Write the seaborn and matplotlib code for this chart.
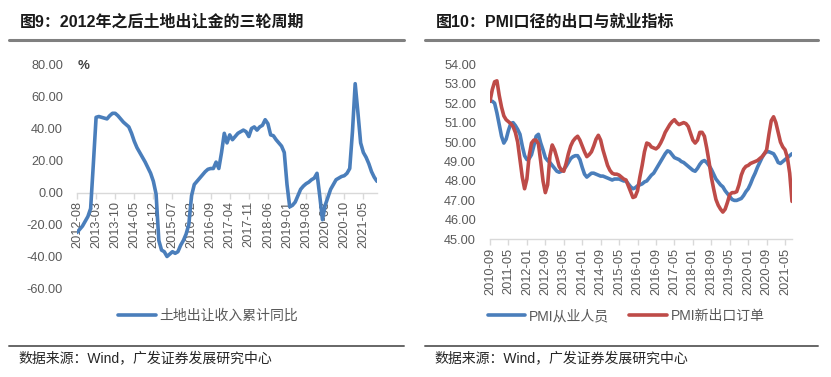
import numpy as np
import pandas as pd
import matplotlib
matplotlib.use("Agg")
import matplotlib.pyplot as plt
import seaborn as sns
from matplotlib.lines import Line2D

# ---------------- data ----------------
land_start = "2012-08"
land_yoy = [
    -25, -23, -21, -18, -15, -10, 18, 47, 47.5, 47, 46.5, 46, 48, 49.5, 49.5, 48,
    46, 44, 42.5, 41, 37, 32, 28, 25, 22, 19, 15.5, 12, 7, -1, -30, -36,
    -37, -40, -38.5, -37, -38, -37, -33, -30, -26, -20, -2, 5, 7, 9, 11, 13,
    14.5, 15, 15, 19, 15, 25, 37, 31, 36, 33, 35, 37, 38, 39, 38, 35,
    40, 41, 39, 41, 42, 45.5, 43, 36, 35.5, 33, 31, 29, 25, 5, -9, -8,
    -6, -2, 2, 4, 5.5, 6.5, 8, 9, 12, -2, -17, -8, -3, 2, 5, 8,
    9, 10, 10.5, 12, 15, 38, 68, 50, 31, 25, 22, 18, 13, 9.5, 7,
]
land_tick_labels = ["2012-08", "2013-03", "2013-10", "2014-05", "2014-12", "2015-07",
                    "2016-02", "2016-09", "2017-04", "2017-11", "2018-06", "2019-01",
                    "2019-08", "2020-03", "2020-10", "2021-05"]
land_series_name = "土地出让收入累计同比"

pmi_start = "2010-09"
pmi_employment = [
    52.1, 52.1, 52.0, 51.5, 50.9, 50.3, 49.95, 50.15, 50.6, 50.95, 51.0, 50.85,
    50.65, 50.4, 49.8, 49.3, 49.1, 49.15, 49.35, 49.8, 50.3, 50.4, 49.95, 49.6,
    49.2, 49.05, 48.95, 48.8, 48.65, 48.5, 48.45, 48.5, 48.6, 48.75, 48.95, 49.15,
    49.25, 49.3, 49.3, 49.1, 48.7, 48.35, 48.2, 48.3, 48.4, 48.4, 48.35, 48.3,
    48.25, 48.25, 48.2, 48.15, 48.1, 48.05, 48.1, 48.1, 48.1, 48.05, 48.0, 48.0,
    47.85, 47.7, 47.6, 47.65, 47.75, 47.8, 47.85, 47.95, 48.0, 48.15, 48.3, 48.4,
    48.6, 48.8, 49.0, 49.2, 49.4, 49.55, 49.5, 49.35, 49.2, 49.15, 49.1, 49.0,
    48.95, 48.85, 48.75, 48.65, 48.55, 48.5, 48.65, 48.85, 49.0, 49.05, 48.95, 48.8,
    48.6, 48.35, 48.1, 47.95, 47.8, 47.7, 47.5, 47.35, 47.2, 47.05, 47.0, 47.0,
    47.05, 47.1, 47.25, 47.45, 47.6, 47.85, 48.15, 48.4, 48.7, 48.95, 49.2, 49.4,
    49.5, 49.5, 49.45, 49.4, 49.2, 48.95, 48.9, 49.0, 49.1, 49.2, 49.3, 49.4,
]
pmi_export = [
    52.1, 52.7, 53.1, 53.15, 52.4, 51.8, 51.35, 51.15, 51.05, 50.95, 50.8, 50.5,
    50.0, 49.1, 48.2, 47.6, 48.1, 49.3, 49.95, 50.1, 50.1, 49.9, 49.0, 48.0,
    47.4, 47.8, 49.3, 49.85, 49.6, 49.2, 48.75, 48.55, 48.5, 48.9, 49.4, 49.8,
    50.05, 50.2, 50.3, 50.1, 49.8, 49.5, 49.25, 49.35, 49.5, 49.8, 50.15, 50.35,
    50.1, 49.6, 49.2, 48.8, 48.55, 48.4, 48.35, 48.35, 48.3, 48.2, 48.1, 48.05,
    47.75, 47.45, 47.15, 47.2, 47.5, 48.2, 48.8, 49.5, 49.95, 49.9, 49.75, 49.7,
    49.65, 49.75, 49.95, 50.2, 50.5, 50.7, 50.9, 51.05, 51.15, 51.0, 50.9, 50.95,
    51.0, 50.95, 50.8, 50.45, 50.1, 49.95, 50.1, 50.5, 50.5, 50.3, 49.7, 49.0,
    48.2, 47.6, 47.05, 46.75, 46.55, 46.4, 46.55, 46.9, 47.3, 47.4, 47.4, 47.45,
    47.8, 48.3, 48.6, 48.75, 48.8, 48.9, 48.95, 49.0, 49.05, 49.15, 49.25, 49.4,
    49.6, 50.4, 51.1, 51.3, 51.0, 50.5, 50.0, 49.75, 49.6, 49.2, 48.4, 46.95,
]
pmi_tick_labels = ["2010-09", "2011-05", "2012-01", "2012-09", "2013-05", "2014-01",
                   "2014-09", "2015-05", "2016-01", "2016-09", "2017-05", "2018-01",
                   "2018-09", "2019-05", "2020-01", "2020-09", "2021-05"]
pmi_names = ["PMI从业人员", "PMI新出口订单"]

title_left = "图9：2012年之后土地出让金的三轮周期"
title_right = "图10：PMI口径的出口与就业指标"
source_text = "数据来源：Wind，广发证券发展研究中心"

BLUE = "#4A7EBB"
RED = "#BE4B48"
GRAY_TXT = "#595959"
AXIS_GRAY = "#D9D9D9"

# ---------------- style ----------------
sns.set_theme(style="white")
plt.rcParams["font.family"] = ["Liberation Sans", "Noto Sans CJK SC", "DejaVu Sans"]
plt.rcParams["axes.unicode_minus"] = False

W, H = 831, 377
fig = plt.figure(figsize=(W / 100, H / 100), dpi=100)

def fx(px):
    return px / W

def fy(py):
    return 1 - py / H

# ---------------- left chart ----------------
land_months = list(pd.date_range(land_start, periods=len(land_yoy), freq="MS").strftime("%Y-%m"))
land_df = pd.DataFrame({"idx": np.arange(len(land_yoy)), "month": land_months, "value": land_yoy})

axL = fig.add_axes([fx(77), fy(288.5), fx(377) - fx(77), fy(64.5) - fy(288.5)])
sns.lineplot(data=land_df, x="idx", y="value", ax=axL, color=BLUE, lw=2.6,
             label=land_series_name, zorder=5)
for s in ["left", "top", "right"]:
    axL.spines[s].set_visible(False)
axL.spines["bottom"].set_position(("data", 0))
axL.spines["bottom"].set_color(AXIS_GRAY)
axL.spines["bottom"].set_linewidth(1)
axL.set_xlim(0, len(land_yoy) - 1)
axL.set_ylim(-60, 80)
yt = list(range(-60, 81, 20))
axL.set_yticks(yt)
axL.set_yticklabels([f"{v:.2f}" for v in yt])
axL.set_xticks([land_months.index(m) for m in land_tick_labels])
axL.set_xticklabels(land_tick_labels)
axL.tick_params(axis="x", length=4, width=1, color=AXIS_GRAY, labelsize=9.2,
                labelcolor=GRAY_TXT, pad=2, direction="out", bottom=True, labelrotation=90)
axL.tick_params(axis="y", length=0, pad=10, labelsize=9.2, labelcolor=GRAY_TXT)
axL.set_xlabel("")
axL.set_ylabel("")
axL.grid(False)
axL.legend(loc="center", bbox_to_anchor=(fx(208), fy(316)), bbox_transform=fig.transFigure,
           frameon=False, fontsize=10, handlelength=2.7, handletextpad=0.25,
           labelcolor=GRAY_TXT)
fig.text(fx(78), fy(66), "%", fontsize=9.5, color="#404040", ha="left", va="center",
         fontweight="bold")

# ---------------- right chart ----------------
pmi_months = list(pd.date_range(pmi_start, periods=len(pmi_export), freq="MS").strftime("%Y-%m"))
pmi_df = pd.DataFrame({
    "idx": np.tile(np.arange(len(pmi_export)), 2),
    "value": pmi_employment + pmi_export,
    "series": [pmi_names[0]] * len(pmi_employment) + [pmi_names[1]] * len(pmi_export),
})

axR = fig.add_axes([fx(490), fy(239.3), fx(792) - fx(490), fy(64.3) - fy(239.3)])
sns.lineplot(data=pmi_df, x="idx", y="value", hue="series", hue_order=pmi_names,
             palette=[BLUE, RED], ax=axR, lw=2.6, zorder=5)
for s in ["left", "top", "right"]:
    axR.spines[s].set_visible(False)
axR.spines["bottom"].set_color(AXIS_GRAY)
axR.spines["bottom"].set_linewidth(1)
axR.set_xlim(0, len(pmi_export) - 1)
axR.set_ylim(45, 54)
yt2 = list(range(45, 55))
axR.set_yticks(yt2)
axR.set_yticklabels([f"{v:.2f}" for v in yt2])
axR.set_xticks([pmi_months.index(m) for m in pmi_tick_labels])
axR.set_xticklabels(pmi_tick_labels)
axR.tick_params(axis="x", length=4, width=1, color=AXIS_GRAY, labelsize=9.2,
                labelcolor=GRAY_TXT, pad=2, direction="out", bottom=True, labelrotation=90)
axR.tick_params(axis="y", length=0, pad=10, labelsize=9.2, labelcolor=GRAY_TXT)
axR.set_xlabel("")
axR.set_ylabel("")
axR.grid(False)
h, l = axR.get_legend_handles_labels()
axR.legend(h, l, loc="center", bbox_to_anchor=(fx(626), fy(316)), bbox_transform=fig.transFigure,
           ncol=2, frameon=False, fontsize=10, handlelength=2.7, handletextpad=0.25,
           columnspacing=1.5, labelcolor=GRAY_TXT)

# ---------------- titles, rules, sources ----------------
for x0, x1, title in [(9, 404, title_left), (425, 818, title_right)]:
    fig.text(fx(x0 + 11), fy(22), title, fontsize=11.5, fontweight="bold",
             color="#1a1a1a", ha="left", va="center")
    fig.add_artist(Line2D([fx(x0), fx(x1)], [fy(39.5), fy(39.5)], lw=2.2, color="#808080"))
    fig.add_artist(Line2D([fx(x0), fx(x1)], [fy(345.5), fy(345.5)], lw=1.4, color="#666666"))
    fig.text(fx(x0 + 9), fy(358), source_text, fontsize=10, color="#262626",
             ha="left", va="center")

fig.savefig("out.png", dpi=100)
